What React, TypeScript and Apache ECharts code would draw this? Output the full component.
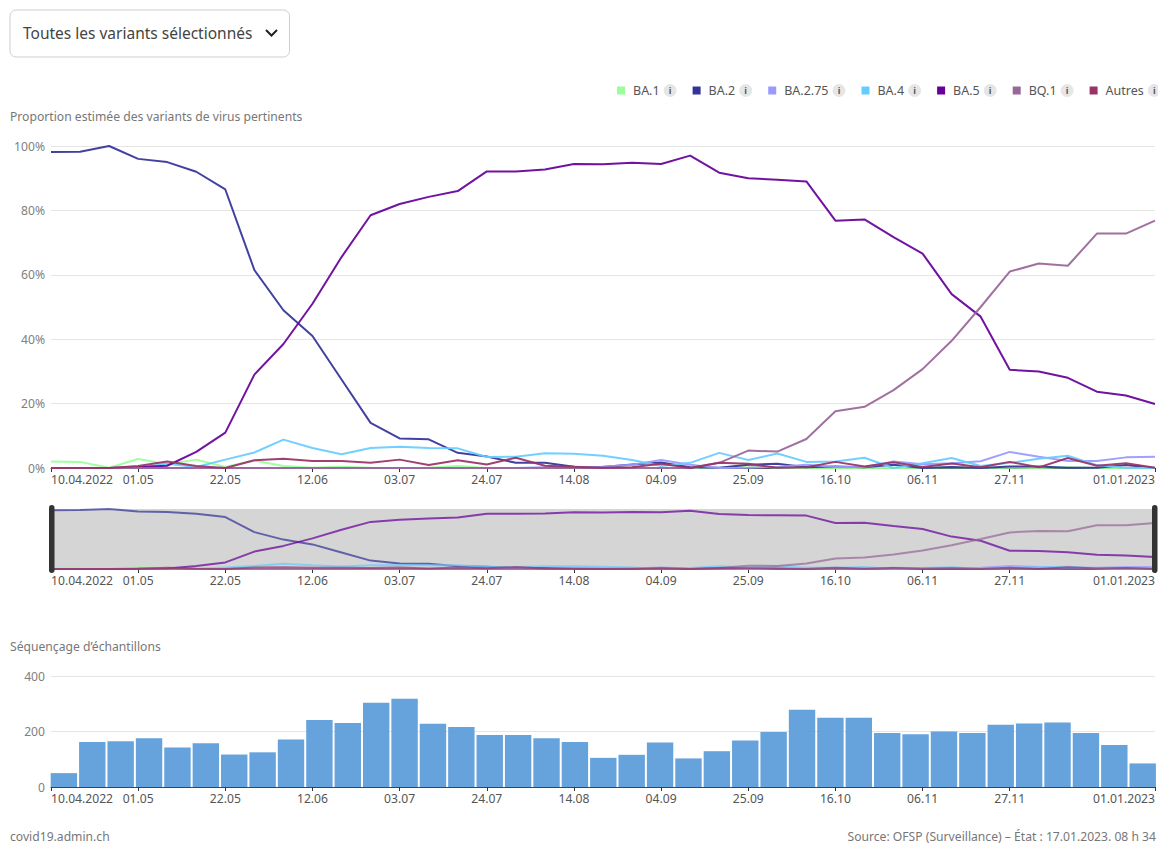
import React, { useEffect, useRef } from "react";
import * as echarts from "echarts";

const weeks = ["10.04.2022","17.04","24.04","01.05","08.05","15.05","22.05","29.05","05.06","12.06","19.06","26.06","03.07","10.07","17.07","24.07","31.07","07.08","14.08","21.08","28.08","04.09","11.09","18.09","25.09","02.10","09.10","16.10","23.10","30.10","06.11","13.11","20.11","27.11","04.12","11.12","18.12","25.12","01.01.2023"];
const ba1 = [2,1.9,0.1,2.8,1.2,2.6,0.3,2.3,0.6,0.1,0.4,0.1,0,0.1,0.6,0,0,0,0.1,0.4,0,0,0,0,0.8,0.1,0,0,0,0.1,0,0.2,0,0.1,0,0.2,0,0,0];
const ba2 = [98.1,98.2,100,96,95,92,86.5,61.5,49,41,27.5,14,9.2,8.9,4.7,3.6,1.6,1.6,0.4,0.3,1.1,1.7,0.2,0.1,1,1.3,0.2,0.5,0.2,1,0,0.3,0,0.5,0.5,0.1,0.1,0.9,0];
const ba275 = [0,0,0,0,0,0,0,0,0,0,0,0,0,0,0,0,0,0.2,0.3,0.4,1,2.5,1,0,0.1,0.3,1,0.3,0.3,2,1.2,1.5,2.1,5,3.5,2.2,2.2,3.3,3.5];
const ba4 = [0,0,0,0,1.3,0.3,2.6,4.8,8.8,6.2,4.3,6.2,6.6,6.2,6.1,3.4,3.5,4.6,4.4,3.8,2.5,0.6,1.6,4.7,2.5,4.5,1.9,2,3.2,0,1.5,3.1,0.6,1.6,2.9,3.8,0.9,0.1,0];
const ba5 = [0,0,0,0.3,0.7,5,11,29,38.5,51,65.5,78.5,82,84.2,86,92.1,92.1,92.7,94.4,94.3,94.8,94.4,97,91.7,90,89.5,89,76.8,77.2,71.7,66.6,54,47,30.5,30,28,23.7,22.5,19.9];
const bq1 = [0,0,0,0,0,0,0,0,0,0,0,0,0,0,0,0,0,0,0,0,0,0,0,1.6,5.4,5.1,9,17.6,19,24.2,30.7,39.5,50,61,63.5,62.8,72.8,72.8,76.8];
const autres = [0,0,0,0.6,2,0.6,0,2.4,2.9,2.2,2.2,1.6,2.6,0.9,2.4,1.1,3.2,0.7,0.4,0.1,0.2,1.3,0,1.6,1.3,0.1,0.2,1.9,0.5,1.8,0.3,1.4,0.2,1.9,0.2,3.1,0.7,1.5,0.1];
const samples = [50,162,165,176,142,158,117,125,171,241,231,304,318,228,216,187,187,176,162,105,116,160,103,129,168,198,278,250,250,195,190,200,195,224,229,232,195,151,85];
const pctTicks = { min: 0, max: 100, interval: 20 };
const sampleTicks = { min: 0, max: 400, interval: 200 };

const variants = [
  { name: "BA.1", color: "#99ff99", data: ba1 },
  { name: "BA.2", color: "#333399", data: ba2 },
  { name: "BA.2.75", color: "#9999ff", data: ba275 },
  { name: "BA.4", color: "#66ccff", data: ba4 },
  { name: "BA.5", color: "#660099", data: ba5 },
  { name: "BQ.1", color: "#996699", data: bq1 },
  { name: "Autres", color: "#993366", data: autres },
];

const FONT = "'Noto Sans', sans-serif";
const TS = 12.15;
const showTick = (i: number) => (i % 3 === 0 && i !== 36) || i === 38;

const dateAxis = (gridIndex: number, line = true) => ({
  type: "category",
  gridIndex,
  data: weeks,
  boundaryGap: false,
  axisLine: { show: line, lineStyle: { color: "#444", width: 1 } },
  axisTick: { show: true, length: 4, interval: (i: number) => showTick(i), lineStyle: { color: "#333" } },
  axisLabel: {
    show: true,
    interval: (i: number) => showTick(i),
    color: "#555",
    fontSize: TS,
    fontFamily: FONT,
    margin: 5,
    alignMinLabel: "left",
    alignMaxLabel: "right",
    hideOverlap: false,
  },
});

export default function App() {
  const ref = useRef<HTMLDivElement>(null);
  useEffect(() => {
    const chart = echarts.init(ref.current!, undefined, { renderer: "svg" });
    const lines = (xAxisIndex: number, yAxisIndex: number, opacity: number, width: number, legend: boolean) =>
      variants.map((v) => ({
        type: "line",
        name: legend ? v.name : v.name + " ",
        xAxisIndex,
        yAxisIndex,
        data: v.data,
        symbol: "none",
        silent: true,
        color: v.color,
        lineStyle: { color: v.color, width, opacity },
      }));
    chart.setOption({
      animation: false,
      textStyle: { fontFamily: FONT },
      legend: {
        show: true,
        left: 612,
        top: 79,
        width: 545,
        padding: [5, 0, 5, 5],
        data: variants.map((v) => ({ name: v.name, icon: "rect" })),
        itemWidth: 8,
        itemHeight: 8,
        itemGap: 16,
        selectedMode: false,
        formatter: (n: string) => `{t|${n}}{i|i}`,
        textStyle: {
          rich: {
            t: { color: "#555", fontSize: 12.5, fontFamily: FONT, padding: [0, 4, 0, 3] },
            i: { color: "#555", fontSize: 9, fontWeight: "bold", fontFamily: FONT, backgroundColor: "#e6e6e6", borderRadius: 6.5, width: 13, height: 13, lineHeight: 13, align: "center" },
          },
        },
      },
      grid: [
        { left: 51, right: 3, top: 146, height: 322 },
        { left: 51, right: 3, top: 509, height: 60, show: true, backgroundColor: "#d5d5d5", borderWidth: 0 },
        { left: 51, right: 3, top: 676, height: 111 },
        { left: 49.7, width: 1107.2, top: 676, height: 111 },
      ],
      xAxis: [
        dateAxis(0),
        dateAxis(1, false),
        dateAxis(2),
        { type: "category", gridIndex: 3, data: weeks, boundaryGap: true, show: false },
      ],
      yAxis: [
        {
          type: "value", gridIndex: 0, ...pctTicks,
          axisLine: { show: false }, axisTick: { show: false },
          axisLabel: { color: "#808080", fontSize: TS, fontFamily: FONT, margin: 6, formatter: "{value}%" },
          splitLine: { lineStyle: { color: "#e5e5e5", width: 1 } },
        },
        { type: "value", gridIndex: 1, ...pctTicks, show: false, splitLine: { show: false } },
        {
          type: "value", gridIndex: 2, ...sampleTicks,
          axisLine: { show: false }, axisTick: { show: false },
          axisLabel: { color: "#808080", fontSize: TS, fontFamily: FONT, margin: 6 },
          splitLine: { lineStyle: { color: "#e5e5e5", width: 1 } },
        },
        { type: "value", gridIndex: 3, ...sampleTicks, show: false, splitLine: { show: false } },
      ],
      series: [
        ...lines(0, 0, 0.93, 2, true),
        ...lines(1, 1, 0.72, 2, false),
        {
          type: "bar",
          xAxisIndex: 3,
          yAxisIndex: 3,
          data: samples,
          barWidth: 26.4,
          silent: true,
          itemStyle: { color: "#5a9bd9", opacity: 0.93 },
        },
      ],
      graphic: [
        { type: "rect", shape: { x: 49, y: 505, width: 5.5, height: 68, r: 2.75 }, style: { fill: "#333" }, z: 100 },
        { type: "rect", shape: { x: 1152, y: 505, width: 5.5, height: 68, r: 2.75 }, style: { fill: "#333" }, z: 100 },
        { type: "rect", shape: { x: 10, y: 10, width: 279.5, height: 47, r: 6 }, style: { fill: "#fff", stroke: "#cfcfcf", lineWidth: 1 } },
        { type: "text", x: 23, y: 32.5, style: { text: "Toutes les variants sélectionnés", fill: "#444", fontSize: 15.5, fontFamily: FONT, verticalAlign: "middle" } },
        { type: "polyline", shape: { points: [[266, 30], [271.5, 35.5], [277, 30]] }, style: { stroke: "#222", lineWidth: 2, fill: "none" } },
        { type: "text", x: 10, y: 116.5, style: { text: "Proportion estimée des variants de virus pertinents", fill: "#777", fontSize: TS, fontFamily: FONT, verticalAlign: "middle" } },
        { type: "text", x: 10, y: 646.5, style: { text: "Séquençage d’échantillons", fill: "#777", fontSize: TS, fontFamily: FONT, verticalAlign: "middle" } },
        { type: "text", x: 10, y: 836.5, style: { text: "covid19.admin.ch", fill: "#777", fontSize: TS, fontFamily: FONT, verticalAlign: "middle" } },
        { type: "text", x: 1156, y: 836.5, style: { text: "Source: OFSP (Surveillance) – État : 17.01.2023. 08 h 34", fill: "#777", fontSize: TS, fontFamily: FONT, align: "right", verticalAlign: "middle" } },
      ],
    });
    return () => chart.dispose();
  }, []);
  return <div ref={ref} style={{ position: "absolute", left: 0, top: 0, width: 1158, height: 845, background: "#fff" }} />;
}
